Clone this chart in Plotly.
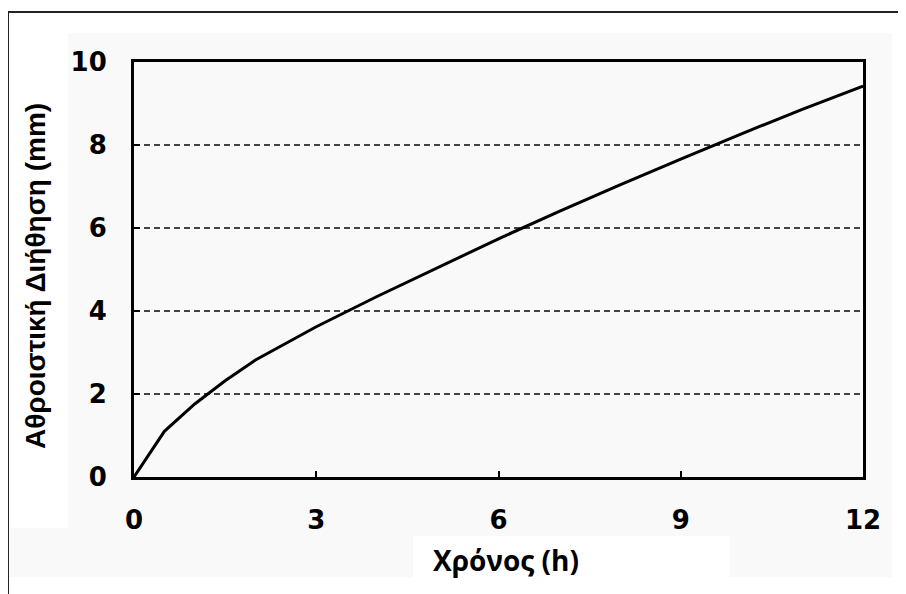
import plotly.graph_objects as go

# Data
time_h = [0, 0.5, 1, 1.5, 2, 3, 4, 5, 6, 7, 8, 9, 10, 11, 12]
cum_infiltration_mm = [0, 1.1, 1.76, 2.32, 2.82, 3.62, 4.35, 5.05, 5.74, 6.4, 7.04, 7.66, 8.27, 8.86, 9.42]
x_ticks = [0, 3, 6, 9, 12]
y_ticks = [0, 2, 4, 6, 8, 10]
x_title = "Χρόνος (h)"
y_title = "Αθροιστική Διήθηση (mm)"

W, H = 906, 594
OFF = 8  # page body margin offset
# target plot-area edges in screen pixels
PX0, PX1, PY0, PY1 = 134, 863, 62, 477
L, T = PX0 - OFF, PY0 - OFF
R = W - (PX1 - OFF)
B = H - (PY1 - OFF)
PW, PH = PX1 - PX0, PY1 - PY0


def px(xs):
    return (xs - PX0) / PW


def py(ys):
    return (PY1 - ys) / PH


fig = go.Figure()
fig.add_trace(go.Scatter(x=time_h, y=cum_infiltration_mm, mode="lines",
                         line=dict(color="black", width=3), showlegend=False,
                         hoverinfo="skip"))

tickfont = dict(family="DejaVu Sans", size=26, color="black")
fig.update_layout(
    width=W, height=H,
    margin=dict(l=L, r=R, t=T, b=B),
    paper_bgcolor="white", plot_bgcolor="white",
    xaxis=dict(range=[0, 12], tickvals=x_ticks, ticktext=[f"<b>{v}</b>" for v in x_ticks],
               showgrid=False, zeroline=False, showline=True, mirror=True,
               linecolor="black", linewidth=3, ticks="inside", ticklen=6, tickwidth=1.5,
               tickcolor="black", tickfont=tickfont, ticklabelstandoff=18, fixedrange=True),
    yaxis=dict(range=[0, 10], tickvals=y_ticks, ticktext=[f"<b>{v}</b>" for v in y_ticks],
               showgrid=True, gridcolor="#444444", gridwidth=2, griddash="6px,4px",
               zeroline=False, showline=True, mirror=True,
               linecolor="black", linewidth=3, ticks="inside", ticklen=6, tickwidth=1.5,
               tickcolor="black", tickfont=tickfont, ticklabelstandoff=19, fixedrange=True),
    annotations=[
        dict(text=f"<b>{y_title}</b>", xref="paper", yref="paper", x=px(35), y=py(276),
             textangle=-90, showarrow=False, xanchor="center", yanchor="middle",
             font=dict(family="Liberation Sans", size=28, color="black")),
        dict(text=f"<b>{x_title}</b>", xref="paper", yref="paper", x=px(506), y=py(560),
             showarrow=False, xanchor="center", yanchor="middle",
             font=dict(family="Open Sans", size=28, color="black")),
    ],
    shapes=[
        # subtle grey background panels
        dict(type="rect", xref="paper", yref="paper", layer="below", line_width=0, fillcolor="#f9f9f9",
             x0=px(68), x1=px(892), y0=py(577), y1=py(33)),
        dict(type="rect", xref="paper", yref="paper", layer="below", line_width=0, fillcolor="#f9f9f9",
             x0=px(10), x1=px(68), y0=py(577), y1=py(528)),
        dict(type="rect", xref="paper", yref="paper", layer="below", line_width=0, fillcolor="white",
             x0=px(413), x1=px(730), y0=py(600), y1=py(536)),
        # outer frame (top and left edges)
        dict(type="line", xref="paper", yref="paper", line=dict(color="#222222", width=2),
             x0=px(8), x1=px(910), y0=py(12), y1=py(12)),
        dict(type="line", xref="paper", yref="paper", line=dict(color="#222222", width=2),
             x0=px(8), x1=px(8), y0=py(12), y1=py(600)),
    ],
)

fig.write_html("out.html")
